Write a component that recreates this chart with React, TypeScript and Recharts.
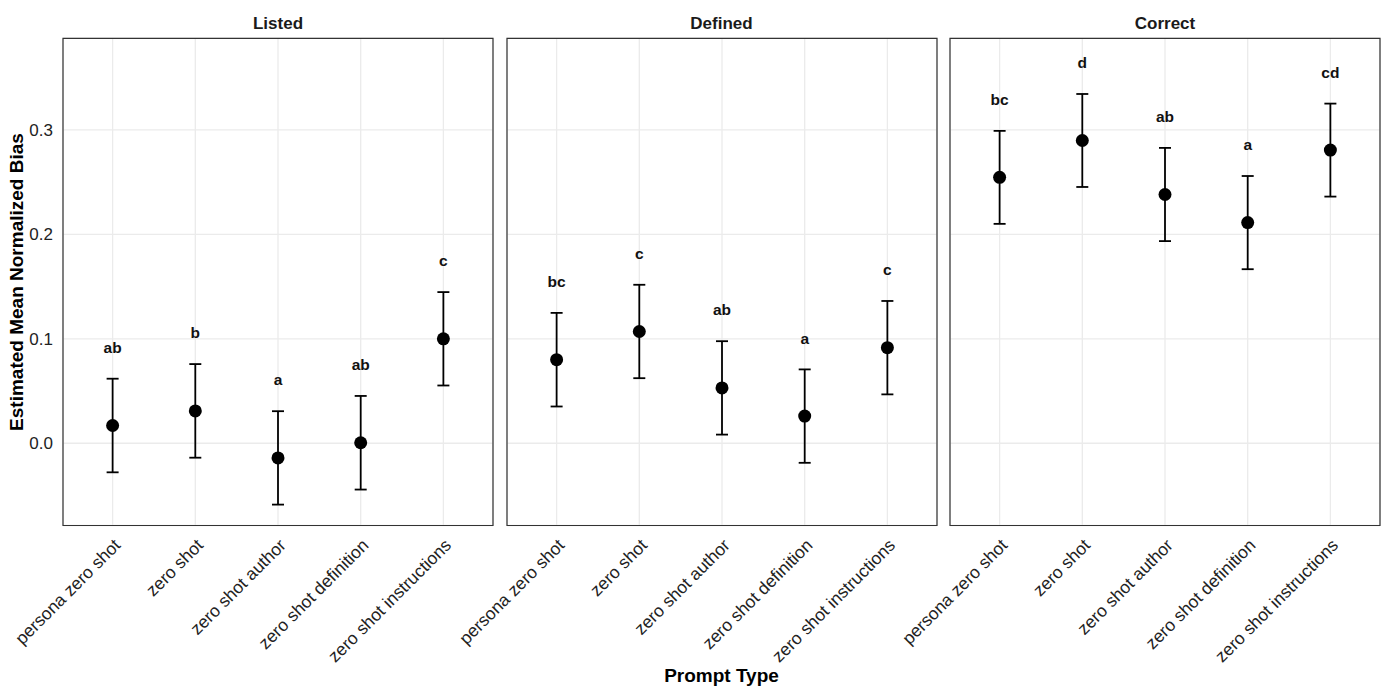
import React from "react";
import {
	CartesianGrid,
	ErrorBar,
	ReferenceArea,
	Scatter,
	ScatterChart,
	XAxis,
	YAxis,
} from "recharts";

// values
const promptTypes = [
	"persona zero shot",
	"zero shot",
	"zero shot author",
	"zero shot definition",
	"zero shot instructions",
];
const panelTitles = ["Listed", "Defined", "Correct"];

const listedMeans = [0.017, 0.031, -0.014, 0.0005, 0.1];
const definedMeans = [0.08, 0.107, 0.053, 0.026, 0.0915];
const correctMeans = [0.2545, 0.2898, 0.2381, 0.2112, 0.2806];

const listedErr = [0.0448, 0.0448, 0.0447, 0.0448, 0.0447];
const definedErr = [0.0448, 0.0447, 0.0447, 0.0447, 0.0447];
const correctErr = [0.0445, 0.0445, 0.0446, 0.0446, 0.0445];

const listedLetters = ["ab", "b", "a", "ab", "c"];
const definedLetters = ["bc", "c", "ab", "a", "c"];
const correctLetters = ["bc", "d", "ab", "a", "cd"];

const yTicks = [0, 0.1, 0.2, 0.3];
const xTicks = [1, 2, 3, 4, 5];
const yDomain = [-0.0787, 0.3876];
const xDomain = [0.4, 5.6];

const FONT = "'Liberation Sans', Arial, sans-serif";

const buildRows = (means: number[], errs: number[], letters: string[]) =>
	means.map((m, i) => ({
		x: i + 1,
		y: m,
		err: errs[i],
		labelY: m + errs[i] + 0.03,
		letter: letters[i],
	}));

const panelRows = [
	buildRows(listedMeans, listedErr, listedLetters),
	buildRows(definedMeans, definedErr, definedLetters),
	buildRows(correctMeans, correctErr, correctLetters),
];

const XTick = (props: any) => {
	const { x, y, payload } = props;
	return (
		<g transform={`translate(${x},${y + 10})`}>
			<text
				x={0}
				y={0}
				dy="0.72em"
				textAnchor="end"
				transform="rotate(-45)"
				fontSize={17.5}
				fontFamily={FONT}
				fill="#222">
				{promptTypes[payload.value - 1]}
			</text>
		</g>
	);
};

const Dot = (props: any) => (
	<circle cx={props.cx} cy={props.cy} r={6.5} fill="#000" />
);

const Letter = (props: any) => (
	<text
		x={props.cx}
		y={props.cy}
		textAnchor="middle"
		dominantBaseline="central"
		fontSize={15.5}
		fontWeight="bold"
		fontFamily={FONT}
		fill="#111">
		{props.payload.letter}
	</text>
);

// left position of each chart box, and its left margin
const layout = [
	{ left: 0, width: 505, marginLeft: 13, showY: true },
	{ left: 447, width: 499, marginLeft: 60, showY: false },
	{ left: 890, width: 499, marginLeft: 60, showY: false },
];
const panelCenters = [278, 721.5, 1165];

const Panel = ({ rows, idx }) => {
	const l = layout[idx];
	return (
		<div style={{ position: "absolute", left: l.left, top: 0 }}>
			<ScatterChart
				width={l.width}
				height={695}
				margin={{
					top: 38.3,
					right: l.width - l.marginLeft - (l.showY ? 50 : 0) - 430,
					bottom: 19.5,
					left: l.marginLeft,
				}}>
				<CartesianGrid stroke="#ebebeb" strokeWidth={1.3} />
				<XAxis
					type="number"
					dataKey="x"
					domain={xDomain}
					ticks={xTicks}
					height={150}
					axisLine={false}
					tickLine={false}
					tickSize={0}
					tick={<XTick />}
					interval={0}
				/>
				<YAxis
					type="number"
					dataKey="y"
					domain={yDomain}
					allowDataOverflow
					ticks={yTicks}
					width={50}
					hide={!l.showY}
					axisLine={false}
					tickLine={false}
					tickSize={0}
					tickMargin={10}
					tickFormatter={(v: number) => v.toFixed(1)}
					tick={{ fontSize: 17, fill: "#222", fontFamily: FONT }}
				/>
				<ReferenceArea
					x1={xDomain[0]}
					x2={xDomain[1]}
					y1={yDomain[0]}
					y2={yDomain[1]}
					fill="none"
					stroke="#333"
					strokeWidth={1.2}
				/>
				<Scatter
					data={rows}
					dataKey="y"
					shape={<Dot />}
					isAnimationActive={false}>
					<ErrorBar
						dataKey="err"
						direction="y"
						width={6}
						stroke="#000"
						strokeWidth={1.8}
					/>
				</Scatter>
				<Scatter
					data={rows.map((r) => ({ x: r.x, y: r.labelY, letter: r.letter }))}
					dataKey="y"
					shape={<Letter />}
					isAnimationActive={false}
				/>
			</ScatterChart>
		</div>
	);
};

const App = () => {
	return (
		<div
			style={{
				position: "absolute",
				left: 0,
				top: 0,
				width: 1389,
				height: 695,
				background: "#fff",
				fontFamily: FONT,
				overflow: "hidden",
			}}>
			{panelRows.map((rows, i) => (
				<Panel rows={rows} idx={i} key={i} />
			))}
			{panelTitles.map((t, i) => (
				<div
					key={t}
					style={{
						position: "absolute",
						left: panelCenters[i] - 100,
						width: 200,
						top: 14,
						textAlign: "center",
						fontSize: 17,
						fontWeight: "bold",
						lineHeight: "20px",
						color: "#1a1a1a",
					}}>
					{t}
				</div>
			))}
			<div
				style={{
					position: "absolute",
					left: 621.5,
					width: 200,
					top: 664,
					textAlign: "center",
					fontSize: 19,
					fontWeight: "bold",
					lineHeight: "24px",
					color: "#000",
				}}>
				Prompt Type
			</div>
			<div
				style={{
					position: "absolute",
					left: 17 - 200,
					top: 282 - 12,
					width: 400,
					textAlign: "center",
					fontSize: 19,
					fontWeight: "bold",
					lineHeight: "24px",
					color: "#000",
					transform: "rotate(-90deg)",
				}}>
				Estimated Mean Normalized Bias
			</div>
		</div>
	);
};

export default App;
